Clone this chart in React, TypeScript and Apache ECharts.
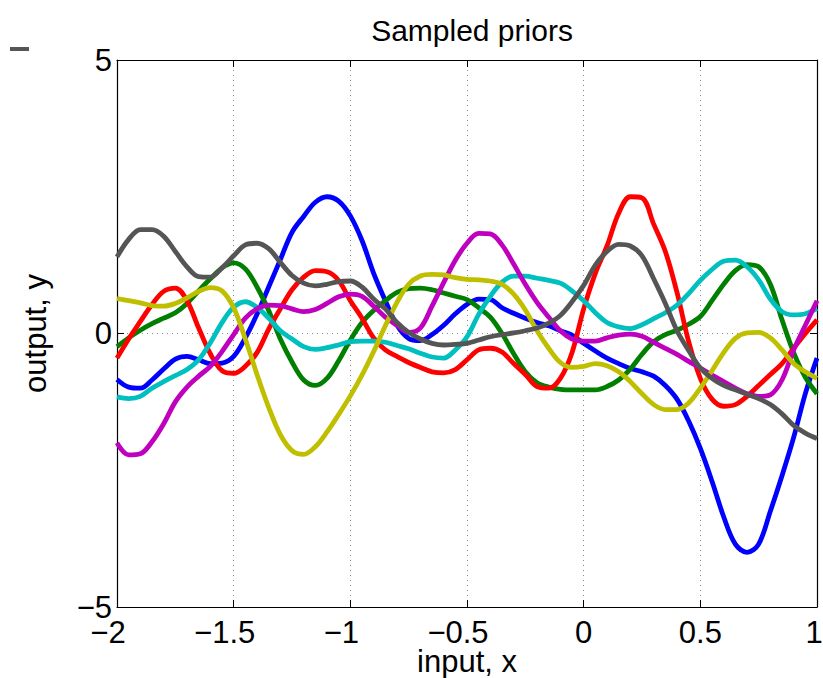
import React, { useEffect, useRef } from "react";
import * as echarts from "echarts";

const xs = [
  -2.0, -1.95, -1.9, -1.85, -1.8, -1.75, -1.7, -1.65, -1.6, -1.55, -1.5, -1.45, -1.4, -1.35, -1.3, -1.25,
  -1.2, -1.15, -1.1, -1.05, -1.0, -0.95, -0.9, -0.85, -0.8, -0.75, -0.7, -0.65, -0.6, -0.55, -0.5, -0.45,
  -0.4, -0.35, -0.3, -0.25, -0.2, -0.15, -0.1, -0.05, 0.0, 0.05, 0.1, 0.15, 0.2, 0.25, 0.3, 0.35, 0.4,
  0.45, 0.5, 0.55, 0.6, 0.65, 0.7, 0.75, 0.8, 0.85, 0.9, 0.95, 1.0,
];

const blueY = [
  -0.84, -0.98, -1.0, -0.85, -0.65, -0.47, -0.42, -0.48, -0.55, -0.54, -0.42, -0.08, 0.35, 0.85, 1.35, 1.85,
  2.14, 2.4, 2.5, 2.42, 2.15, 1.7, 1.1, 0.6, 0.15, -0.09, -0.13, -0.02, 0.15, 0.36, 0.53, 0.63,
  0.62, 0.47, 0.37, 0.28, 0.2, 0.14, 0.05, -0.03, -0.18, -0.32, -0.45, -0.55, -0.64, -0.7, -0.78, -0.95, -1.2,
  -1.6, -2.1, -2.7, -3.35, -3.85, -4.0, -3.85, -3.25, -2.6, -1.9, -1.1, -0.45,
];

const greenY = [
  -0.24, -0.08, 0.06, 0.18, 0.28, 0.38, 0.55, 0.78, 1.0, 1.2, 1.29, 1.18, 0.85, 0.42, -0.1, -0.52,
  -0.85, -0.95, -0.82, -0.5, -0.12, 0.2, 0.42, 0.6, 0.75, 0.82, 0.83, 0.8, 0.74, 0.68, 0.62, 0.47,
  0.3, 0.0, -0.37, -0.7, -0.9, -0.98, -1.02, -1.03, -1.03, -1.03, -0.97, -0.85, -0.65, -0.38, -0.15, -0.02, 0.06,
  0.17, 0.31, 0.6, 0.9, 1.15, 1.26, 1.22, 0.9, 0.25, -0.35, -0.8, -1.1,
];

const redY = [
  -0.45, -0.1, 0.22, 0.53, 0.77, 0.83, 0.6, 0.1, -0.37, -0.68, -0.73, -0.6, -0.35, 0.08, 0.45, 0.8,
  1.03, 1.15, 1.13, 0.97, 0.6, 0.28, -0.08, -0.3, -0.42, -0.53, -0.62, -0.7, -0.72, -0.66, -0.48, -0.3,
  -0.27, -0.34, -0.55, -0.75, -0.97, -1.0, -0.82, -0.35, 0.45, 1.1, 1.6, 2.2, 2.5, 2.48, 2.0, 1.5, 0.75,
  -0.15, -0.82, -1.2, -1.33, -1.3, -1.15, -0.95, -0.75, -0.55, -0.27, 0.0, 0.25,
];

const cyanY = [
  -1.16, -1.19, -1.15, -1.0, -0.88, -0.77, -0.66, -0.48, -0.17, 0.2, 0.48, 0.58, 0.48, 0.28, 0.05, -0.1,
  -0.24, -0.29, -0.26, -0.21, -0.15, -0.14, -0.14, -0.16, -0.22, -0.28, -0.36, -0.43, -0.45, -0.3, -0.06, 0.35,
  0.68, 0.94, 1.05, 1.05, 1.01, 0.97, 0.92, 0.78, 0.6, 0.38, 0.2, 0.12, 0.09, 0.16, 0.27, 0.38, 0.52,
  0.73, 0.97, 1.17, 1.32, 1.34, 1.22, 0.98, 0.63, 0.4, 0.34, 0.36, 0.46,
];

const magentaY = [
  -2.0, -2.22, -2.2, -1.98, -1.65, -1.25, -0.98, -0.78, -0.6, -0.33, -0.02, 0.28, 0.45, 0.52, 0.51, 0.45,
  0.4, 0.44, 0.55, 0.67, 0.72, 0.68, 0.5, 0.3, 0.15, 0.02, 0.1, 0.5, 0.93, 1.34, 1.65, 1.83,
  1.82, 1.62, 1.27, 0.9, 0.57, 0.3, 0.05, -0.1, -0.14, -0.14, -0.08, -0.03, -0.01, -0.05, -0.16, -0.27, -0.38,
  -0.51, -0.63, -0.76, -0.88, -1.0, -1.1, -1.15, -1.12, -0.85, -0.3, 0.15, 0.6,
];

const yellowY = [
  0.64, 0.6, 0.56, 0.51, 0.5, 0.55, 0.65, 0.77, 0.84, 0.78, 0.47, -0.1, -0.75, -1.35, -1.85, -2.14,
  -2.21, -2.07, -1.8, -1.48, -1.14, -0.76, -0.33, 0.14, 0.57, 0.9, 1.05, 1.08, 1.07, 1.02, 0.99, 0.98,
  0.96, 0.9, 0.72, 0.43, 0.05, -0.27, -0.53, -0.62, -0.6, -0.55, -0.59, -0.7, -0.88, -1.1, -1.3, -1.39, -1.39,
  -1.27, -1.0, -0.68, -0.35, -0.09, 0.01, 0.02, -0.08, -0.3, -0.55, -0.7, -0.82,
];

const grayY = [
  1.4, 1.72, 1.9, 1.9, 1.78, 1.5, 1.22, 1.04, 1.03, 1.2, 1.42, 1.62, 1.65, 1.55, 1.3, 1.06,
  0.92, 0.87, 0.9, 0.95, 0.96, 0.85, 0.63, 0.45, 0.2, 0.02, -0.1, -0.18, -0.21, -0.2, -0.18, -0.12,
  -0.06, -0.02, 0.01, 0.05, 0.1, 0.19, 0.33, 0.58, 0.88, 1.25, 1.5, 1.63, 1.6, 1.42, 1.0, 0.55, 0.05,
  -0.31, -0.63, -0.82, -0.95, -1.03, -1.11, -1.19, -1.3, -1.47, -1.68, -1.82, -1.92,
];

const seriesList = [
  { name: "s1", values: blueY, color: "#0000ff" },
  { name: "s2", values: greenY, color: "#007f00" },
  { name: "s3", values: redY, color: "#ff0000" },
  { name: "s4", values: cyanY, color: "#00bfbf" },
  { name: "s5", values: magentaY, color: "#bf00bf" },
  { name: "s6", values: yellowY, color: "#bfbf00" },
  { name: "s7", values: grayY, color: "#555555" },
];

const xTickLabels = ["\u22122", "\u22121.5", "\u22121", "\u22120.5", "0", "0.5", "1"];
const yTickLabels = ["\u22125", "0", "5"];

const titleText = "Sampled priors";
const xName = "input, x";
const yName = "output, y";

const FONT = "Liberation Sans, Arial, Helvetica, sans-serif";
const FS = 31;

export default function App() {
  const ref = useRef<HTMLDivElement>(null);
  useEffect(() => {
    document.body.style.margin = "0";
    const chart = echarts.init(ref.current!, null, { renderer: "svg" });
    const axisCommon = {
      type: "value" as const,
      axisLine: { show: true, onZero: false, lineStyle: { color: "#000", width: 1.2 } },
      axisTick: { show: true, inside: true, length: 7, lineStyle: { color: "#000", width: 1 } },
    };
    const labelText = { fontFamily: FONT, fontSize: FS, color: "#000", lineHeight: 24 };
    const option: any = {
      animation: false,
      backgroundColor: "#ffffff",
      title: {
        text: titleText,
        left: 467,
        top: 10,
        textAlign: "center",
        textStyle: { fontFamily: FONT, fontSize: 30, fontWeight: "normal", color: "#000" },
      },
      grid: {
        left: 117,
        right: 6,
        top: 60,
        bottom: 71,
        containLabel: false,
        outerBoundsMode: "none",
      },
      xAxis: [
        {
          ...axisCommon,
          position: "bottom",
          min: -2,
          max: 1,
          interval: 0.5,
          name: xName,
          nameLocation: "middle",
          nameGap: 54,
          nameMoveOverlap: false,
          nameTextStyle: {
            fontFamily: FONT,
            fontSize: FS,
            color: "#000",
            lineHeight: 22,
            verticalAlign: "middle",
          },
          axisLabel: {
            show: true,
            margin: 13,
            ...labelText,
            formatter: (v: number) => {
              const lab = xTickLabels[Math.round((v + 2) / 0.5)] ?? "";
              if (v < 0) return `{neg|${lab}}`;
              if (v >= 1) return `{last|${lab}}`;
              return `{pos|${lab}}`;
            },
            rich: {
              neg: { ...labelText, padding: [0, 18, 0, 0] },
              last: { ...labelText, padding: [0, 6, 0, 0] },
              pos: { ...labelText },
            },
          },
          splitLine: { show: true, lineStyle: { color: "#888", type: [1, 4], width: 1 } },
        },
        {
          ...axisCommon,
          position: "top",
          min: -2,
          max: 1,
          interval: 0.5,
          axisLabel: { show: false },
          splitLine: { show: false },
        },
      ],
      yAxis: [
        {
          ...axisCommon,
          position: "left",
          min: -5,
          max: 5,
          interval: 5,
          name: yName,
          nameLocation: "middle",
          nameGap: 66,
          nameMoveOverlap: false,
          nameTextStyle: { fontFamily: FONT, fontSize: FS, color: "#000" },
          axisLabel: {
            show: true,
            margin: 5,
            ...labelText,
            lineHeight: 22,
            formatter: (v: number) => yTickLabels[Math.round((v + 5) / 5)] ?? "",
          },
          splitLine: { show: true, lineStyle: { color: "#888", type: [1, 4], width: 1 } },
        },
        {
          ...axisCommon,
          position: "right",
          min: -5,
          max: 5,
          interval: 5,
          axisLabel: { show: false },
          splitLine: { show: false },
        },
      ],
      graphic: [
        { type: "rect", left: 10, top: 47, shape: { width: 19, height: 4 }, style: { fill: "#555555" } },
      ],
      series: seriesList.map((s) => ({
        name: s.name,
        type: "line",
        showSymbol: false,
        smooth: 0.35,
        clip: true,
        lineStyle: { color: s.color, width: 4.8 },
        itemStyle: { color: s.color },
        data: xs.map((x, i) => [x, s.values[i]]),
      })),
    };
    chart.setOption(option);
    return () => chart.dispose();
  }, []);
  return <div ref={ref} style={{ position: "fixed", left: 0, top: 0, width: 823, height: 678 }} />;
}
